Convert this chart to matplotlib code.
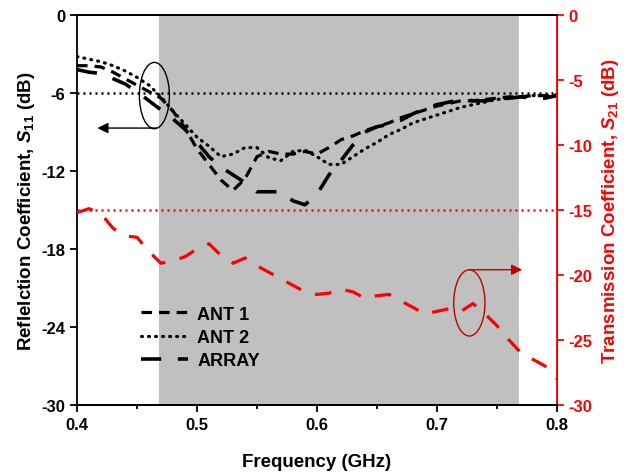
import matplotlib
matplotlib.use("Agg")
import matplotlib.pyplot as plt
from matplotlib.patches import Ellipse

plt.rcParams['font.family'] = ['Liberation Sans', 'DejaVu Sans']
plt.rcParams['font.weight'] = 'bold'
plt.rcParams['axes.unicode_minus'] = False
plt.rcParams['mathtext.fontset'] = 'custom'
plt.rcParams['mathtext.it'] = 'Liberation Sans:italic:bold'
plt.rcParams['mathtext.rm'] = 'Liberation Sans:bold'
plt.rcParams['mathtext.bf'] = 'Liberation Sans:bold'

# frequency samples (GHz)
freq = [0.40, 0.41, 0.42, 0.43, 0.44, 0.45, 0.46, 0.47, 0.48, 0.49,
        0.50, 0.51, 0.52, 0.53, 0.54, 0.55, 0.56, 0.57, 0.58, 0.59,
        0.60, 0.61, 0.62, 0.63, 0.64, 0.65, 0.66, 0.67, 0.68, 0.69,
        0.70, 0.71, 0.72, 0.73, 0.74, 0.75, 0.76, 0.77, 0.78, 0.79, 0.80]

# S11 of the single antennas and the array (dB)
ant1 = [-3.9, -3.9, -4.0, -4.4, -4.9, -5.4, -5.9, -6.4, -7.4, -8.7,
        -10.3, -11.5, -12.7, -13.5, -12.6, -10.9, -10.5, -10.7, -10.7, -10.5,
        -10.7, -10.2, -9.6, -9.3, -8.9, -8.6, -8.3, -7.9, -7.6, -7.3,
        -7.0, -6.8, -6.6, -6.6, -6.5, -6.4, -6.3, -6.3, -6.2, -6.2, -6.1]
ant2 = [-3.2, -3.4, -3.6, -3.9, -4.3, -4.8, -5.4, -6.3, -7.4, -8.4,
        -9.4, -10.1, -10.9, -10.7, -10.2, -10.2, -11.0, -11.2, -10.5, -10.4,
        -10.9, -11.5, -11.5, -10.9, -10.3, -9.8, -9.2, -8.8, -8.3, -8.0,
        -7.7, -7.4, -7.1, -6.9, -6.7, -6.5, -6.4, -6.3, -6.2, -6.2, -6.2]
array_s11 = [-4.2, -4.4, -4.5, -4.9, -5.3, -5.9, -6.6, -7.3, -8.0, -8.8,
             -9.8, -10.9, -11.7, -12.3, -12.9, -13.6, -13.6, -13.6, -14.3, -14.6,
             -13.8, -12.3, -11.2, -10.0, -9.0, -8.6, -8.4, -8.1, -7.6, -7.2,
             -6.9, -6.7, -6.5, -6.6, -6.6, -6.5, -6.4, -6.3, -6.4, -6.4, -6.2]

# S21 between the antennas (dB)
s21 = [-15.2, -14.9, -15.3, -16.4, -17.0, -17.1, -18.2, -19.1, -18.9, -18.6,
       -18.0, -17.6, -18.5, -19.1, -18.7, -19.3, -19.8, -20.3, -20.8, -21.3,
       -21.5, -21.4, -21.1, -21.3, -21.8, -21.6, -21.5, -22.0, -22.5, -23.0,
       -22.8, -22.6, -22.8, -22.2, -23.0, -23.9, -25.0, -26.0, -26.5, -27.0, -28.0]

band = (0.468, 0.768)
s11_ref = -6
s21_ref = -15

fig = plt.figure(figsize=(6.27, 4.77), dpi=100)
ax = fig.add_axes([0.1228, 0.149, 0.7655, 0.8175])
ax2 = ax.twinx()

ax.axvspan(band[0], band[1], color='#c0c0c0', lw=0, zorder=0)
ax.axhline(s11_ref, color='black', lw=1.8, dashes=(0.8, 1.6), zorder=1)

ax.plot(freq, ant1, color='black', lw=2.3, dashes=(3.3, 2.2), label='ANT 1')
ax.plot(freq, ant2, color='black', lw=2.3, dashes=(0.3, 1.9),
        dash_capstyle='round', label='ANT 2')
ax.plot(freq, array_s11, color='black', lw=2.6, dashes=(5.6, 4.6), label='ARRAY')

ax2.axhline(s21_ref, color='red', lw=1.8, dashes=(0.8, 1.6))
ax2.plot(freq, s21, color='red', lw=2.3, dashes=(5.2, 4.6))

ax.set_xlim(0.4, 0.8)
ax.set_ylim(-30, 0)
ax2.set_ylim(-30, 0)
ax.set_xticks([0.4, 0.5, 0.6, 0.7, 0.8])
ax.set_xticks([0.45, 0.55, 0.65, 0.75], minor=True)
ax.set_yticks([0, -6, -12, -18, -24, -30])
ax2.set_yticks([0, -5, -10, -15, -20, -25, -30])

ax.tick_params(axis='both', which='major', direction='out', length=5, width=1.3,
               labelsize=12)
ax.tick_params(axis='x', which='minor', direction='out', length=3, width=1.3)
ax2.tick_params(axis='y', direction='out', length=5, width=1.3, colors='red',
                labelsize=12)
for lab in ax.get_xticklabels() + ax.get_yticklabels() + ax2.get_yticklabels():
    lab.set_fontweight('bold')

for s in ['left', 'bottom', 'top']:
    ax.spines[s].set_linewidth(1.3)
ax2.spines['right'].set_color('red')
ax2.spines['right'].set_linewidth(1.3)
ax2.spines['left'].set_visible(False)
ax2.spines['top'].set_linewidth(1.3)
ax2.spines['bottom'].set_linewidth(1.3)

ax.set_xlabel('Frequency (GHz)', fontsize=13.5, fontweight='bold', labelpad=15)
ax.set_ylabel(r'Reflelction Coefficient, $\mathit{S}_{\mathit{11}}$ (dB)',
              fontsize=13.5, fontweight='bold', labelpad=3)
ax2.set_ylabel(r'Transmission Coefficient, $\mathit{S}_{\mathit{21}}$ (dB)',
               fontsize=13.5, fontweight='bold', color='red', labelpad=5)

# callouts
ax.add_patch(Ellipse((0.4645, -6.2), 0.025, 5.1, fill=False, ec='black', lw=1.0, zorder=5))
ax.annotate('', xy=(0.417, -8.7), xytext=(0.4665, -8.7),
            arrowprops=dict(arrowstyle='-|>', color='black', lw=1.0,
                            mutation_scale=16, shrinkA=0, shrinkB=0))
ax2.add_patch(Ellipse((0.727, -22.15), 0.026, 5.1, fill=False, ec='#c00000', lw=1.0, zorder=5))
ax2.annotate('', xy=(0.771, -19.6), xytext=(0.7268, -19.6),
             arrowprops=dict(arrowstyle='-|>', color='#c00000', lw=1.0,
                             mutation_scale=16, shrinkA=0, shrinkB=0))

leg = ax.legend(loc='lower left', bbox_to_anchor=(0.1, 0.05), frameon=False,
                handlelength=2.6, handletextpad=0.5,
                labelspacing=0.35, prop={'weight': 'bold', 'size': 13})

fig.savefig('out.png', dpi=100)
